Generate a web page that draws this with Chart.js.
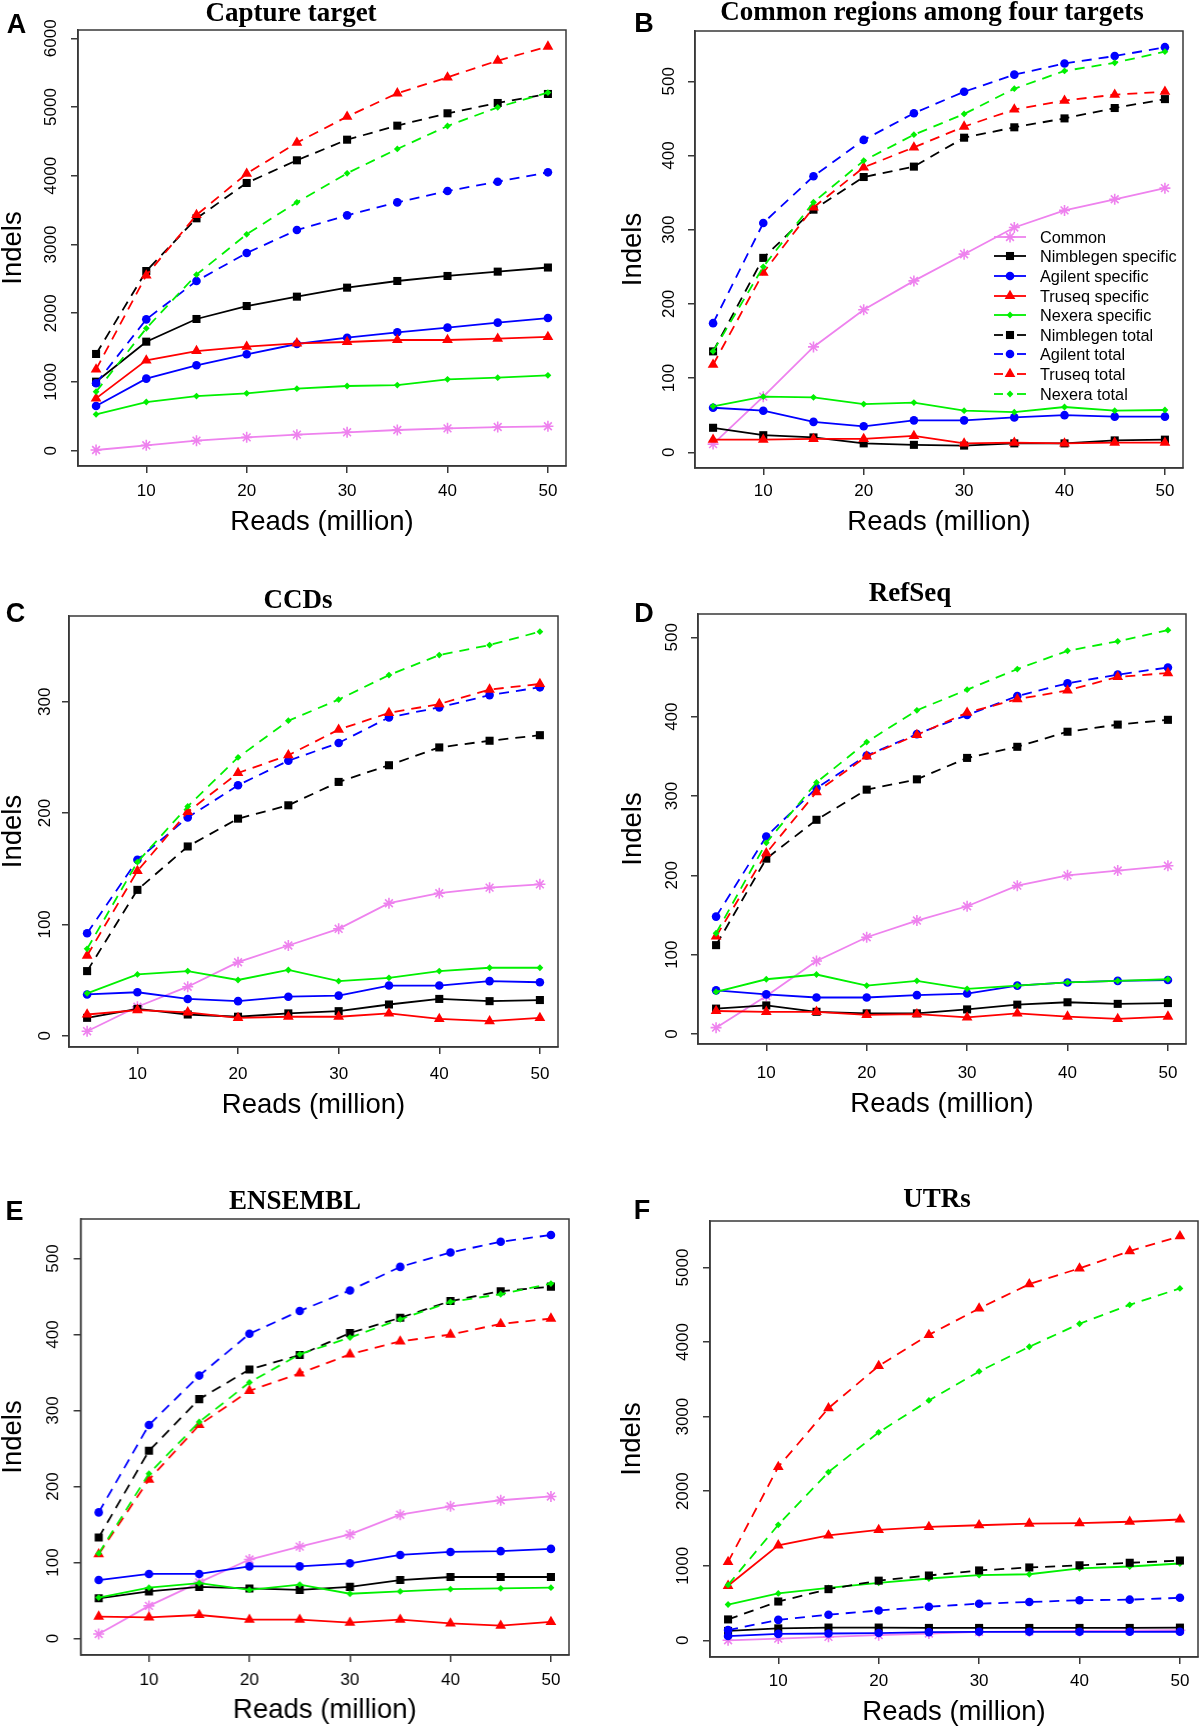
<!DOCTYPE html>
<html>
<head>
<meta charset="utf-8">
<script src="https://cdn.jsdelivr.net/npm/chart.js@4.4.1/dist/chart.umd.min.js"></script>
<style>
html,body{margin:0;padding:0;background:#fff;}
body{width:1200px;height:1728px;position:relative;overflow:hidden;}
canvas{position:absolute;}
.letter{position:absolute;font-family:'Liberation Sans',Arial,sans-serif;font-weight:700;font-size:27px;line-height:1;transform:translate(-50%,-50%);color:#000;white-space:nowrap;}
.ttl{position:absolute;font-family:'Liberation Serif','Times New Roman',serif;font-weight:700;font-size:27px;line-height:1;transform:translate(-50%,-50%);white-space:nowrap;color:#000;}
.legrow{position:absolute;height:20px;}
.legrow svg{position:absolute;left:0;top:0;}
.legrow span{position:absolute;left:50px;top:0;line-height:20px;font-family:'Liberation Sans',Arial,sans-serif;font-size:16.3px;color:#000;white-space:nowrap;}
</style>
</head>
<body>
<script>
// ---------------- DATA ----------------
const reads = [5, 10, 15, 20, 25, 30, 35, 40, 45, 50];
const xTicks = [10, 20, 30, 40, 50];
const seriesLabels = ['Common', 'Nimblegen specific', 'Agilent specific', 'Truseq specific', 'Nexera specific',
                      'Nimblegen total', 'Agilent total', 'Truseq total', 'Nexera total'];

// A: Capture target
const capYTicks = [0, 1000, 2000, 3000, 4000, 5000, 6000];
const capCommon  = [10, 78, 146, 194, 233, 267, 301, 325, 344, 355];
const capNimSpec = [1004, 1586, 1916, 2105, 2241, 2372, 2469, 2542, 2605, 2665];
const capAgiSpec = [650, 1048, 1242, 1402, 1552, 1644, 1722, 1790, 1863, 1930];
const capTruSpec = [761, 1314, 1450, 1513, 1562, 1581, 1610, 1610, 1630, 1655];
const capNexSpec = [529, 708, 795, 834, 902, 941, 955, 1038, 1062, 1097];
const capNimTot  = [1407, 2614, 3381, 3895, 4225, 4525, 4729, 4909, 5059, 5190];
const capAgiTot  = [980, 1911, 2469, 2876, 3211, 3424, 3613, 3778, 3914, 4050];
const capTruTot  = [1183, 2551, 3429, 4031, 4482, 4860, 5200, 5432, 5675, 5880];
const capNexTot  = [858, 1780, 2561, 3148, 3613, 4036, 4390, 4724, 4996, 5210];

// B: Common regions among four targets
const comYTicks = [0, 100, 200, 300, 400, 500];
const comCommon  = [11, 75, 142, 192, 231, 267, 303, 326, 341, 356];
const comNimSpec = [33, 23, 20, 12, 10, 9, 12, 12, 16, 17];
const comAgiSpec = [60, 56, 41, 35, 43, 43, 47, 50, 48, 48];
const comTruSpec = [17, 17, 18, 18, 22, 12, 13, 12, 13, 13];
const comNexSpec = [62, 75, 74, 65, 67, 56, 54, 61, 56, 57];
const comNimTot  = [136, 262, 327, 371, 385, 424, 438, 450, 464, 476];
const comAgiTot  = [174, 309, 372, 421, 457, 486, 509, 524, 534, 546];
const comTruTot  = [118, 242, 330, 384, 411, 439, 462, 474, 482, 486];
const comNexTot  = [136, 250, 337, 393, 428, 456, 490, 514, 525, 540];

// C: CCDs
const ccdYTicks = [0, 100, 200, 300];
const ccdCommon  = [4, 26, 44, 66, 81, 96, 119, 128, 133, 136];
const ccdNimSpec = [16, 24, 19, 17, 20, 22, 28, 33, 31, 32];
const ccdAgiSpec = [37, 39, 33, 31, 35, 36, 45, 45, 49, 48];
const ccdTruSpec = [19, 23, 21, 16, 17, 17, 20, 15, 13, 16];
const ccdNexSpec = [38, 55, 58, 50, 59, 49, 52, 58, 61, 61];
const ccdNimTot  = [58, 131, 170, 195, 207, 228, 243, 259, 265, 270];
const ccdAgiTot  = [92, 158, 196, 225, 247, 263, 286, 295, 306, 313];
const ccdTruTot  = [72, 148, 201, 236, 252, 275, 290, 298, 311, 316];
const ccdNexTot  = [78, 156, 206, 250, 283, 302, 324, 342, 351, 363];

// D: RefSeq
const refYTicks = [0, 100, 200, 300, 400, 500];
const refCommon  = [8, 48, 92, 122, 143, 161, 187, 200, 206, 212];
const refNimSpec = [32, 36, 28, 26, 26, 31, 37, 40, 38, 39];
const refAgiSpec = [55, 50, 46, 46, 49, 51, 61, 65, 67, 68];
const refTruSpec = [29, 28, 28, 24, 25, 21, 26, 22, 19, 22];
const refNexSpec = [53, 69, 75, 61, 67, 57, 61, 65, 67, 69];
const refNimTot  = [112, 221, 270, 308, 321, 348, 362, 381, 390, 396];
const refAgiTot  = [148, 249, 310, 351, 378, 402, 426, 442, 453, 462];
const refTruTot  = [123, 228, 305, 350, 377, 405, 422, 433, 450, 455];
const refNexTot  = [127, 241, 317, 368, 408, 434, 460, 483, 495, 509];

// E: ENSEMBL
const ensYTicks = [0, 100, 200, 300, 400, 500];
const ensCommon  = [6, 43, 74, 104, 121, 137, 163, 174, 182, 187];
const ensNimSpec = [53, 62, 68, 66, 64, 68, 77, 81, 81, 81];
const ensAgiSpec = [77, 85, 85, 95, 95, 99, 110, 114, 115, 118];
const ensTruSpec = [29, 28, 31, 25, 25, 21, 25, 20, 17, 22];
const ensNexSpec = [54, 67, 73, 64, 71, 59, 62, 65, 66, 67];
const ensNimTot  = [133, 247, 315, 354, 373, 402, 422, 444, 457, 463];
const ensAgiTot  = [166, 281, 346, 401, 431, 458, 489, 508, 522, 531];
const ensTruTot  = [111, 209, 281, 326, 349, 374, 391, 400, 414, 421];
const ensNexTot  = [112, 217, 285, 337, 374, 396, 420, 443, 453, 467];

// F: UTRs
const utrYTicks = [0, 1000, 2000, 3000, 4000, 5000];
const utrCommon  = [0, 23, 46, 69, 91, 114, 120, 126, 130, 135];
const utrNimSpec = [126, 160, 171, 171, 166, 166, 166, 166, 166, 170];
const utrAgiSpec = [57, 86, 91, 97, 109, 114, 114, 114, 114, 115];
const utrTruSpec = [731, 1274, 1406, 1480, 1520, 1543, 1566, 1571, 1590, 1620];
const utrNexSpec = [480, 629, 703, 771, 829, 874, 886, 966, 990, 1030];
const utrNimTot  = [280, 520, 686, 800, 869, 937, 977, 1006, 1040, 1070];
const utrAgiTot  = [137, 274, 343, 400, 451, 491, 514, 537, 545, 570];
const utrTruTot  = [1051, 2326, 3114, 3680, 4097, 4451, 4777, 4989, 5220, 5420];
const utrNexTot  = [743, 1549, 2257, 2789, 3217, 3606, 3937, 4246, 4500, 4720];

// ---------------- STYLE ----------------
const SANS = "'Liberation Sans', Arial, Helvetica, sans-serif";
const AXIS_COLOR = '#383838';
const TL = 7;
const seriesColors  = ['#EE82EE', '#000000', '#0000FF', '#FF0000', '#00F000', '#000000', '#0000FF', '#FF0000', '#00F000'];
const seriesMarkers = ['star', 'rect', 'circle', 'triangle', 'rectRot', 'rect', 'circle', 'triangle', 'rectRot'];
const seriesDashed  = [false, false, false, false, false, true, true, true, true];
const markerRadius  = {star: 5.5, rect: 5.7, circle: 4.3, triangle: 6.2, rectRot: 3.4};

const measureCtx = document.createElement('canvas').getContext('2d');
function textWidth(t, size) { measureCtx.font = size + 'px ' + SANS; return measureCtx.measureText(t).width; }

const boxPlugin = {
  id: 'rbox',
  afterDraw(chart) {
    const {ctx, chartArea: a} = chart;
    ctx.save();
    ctx.strokeStyle = AXIS_COLOR;
    ctx.lineWidth = 1.5;
    ctx.strokeRect(a.left, a.top, a.right - a.left, a.bottom - a.top);
    ctx.restore();
  }
};

function makePanel(p) {
  const cw = p.R - p.cl + 14;
  const ch = p.xly + 14 - p.ct;
  const pl = Math.max(0, p.ylx - p.cl - 14);
  const yw = p.L - p.cl - pl;
  const xh = p.xly + 14 - p.B;
  const widest = Math.max(...p.yTicks.map(v => textWidth(String(v), 17)));
  const ypad = p.L - TL - widest / 2 - p.ytx;
  const xpad = p.xty - p.B - TL - 17 * 1.2 / 2;

  const canvas = document.createElement('canvas');
  canvas.width = cw; canvas.height = ch;
  canvas.style.left = p.cl + 'px'; canvas.style.top = p.ct + 'px';
  canvas.style.width = cw + 'px'; canvas.style.height = ch + 'px';
  document.body.appendChild(canvas);

  const datasets = p.series.map((vals, i) => {
    const m = seriesMarkers[i];
    return {
      label: seriesLabels[i],
      data: reads.map((r, k) => ({x: r, y: vals[k]})),
      borderColor: seriesColors[i],
      backgroundColor: seriesColors[i],
      borderWidth: 1.8,
      borderDash: seriesDashed[i] ? [10, 7] : [],
      pointStyle: m,
      pointRadius: markerRadius[m],
      pointBackgroundColor: seriesColors[i],
      pointBorderColor: seriesColors[i],
      pointBorderWidth: m === 'star' ? 1.6 : 0,
      tension: 0,
      order: 9 - i
    };
  });

  const gridOpts = {display: true, drawOnChartArea: false, drawTicks: true, tickLength: TL, color: AXIS_COLOR, lineWidth: 1.5};
  const borderOpts = {display: true, color: AXIS_COLOR, width: 1.5};

  new Chart(canvas, {
    type: 'line',
    data: {datasets},
    options: {
      responsive: false,
      animation: false,
      events: [],
      layout: {padding: {left: pl, top: p.T - p.ct, right: 14, bottom: 0}},
      plugins: {legend: {display: false}, tooltip: {enabled: false}, title: {display: false}},
      scales: {
        x: {
          type: 'linear', min: 3.2, max: 51.8,
          afterBuildTicks: s => { s.ticks = xTicks.map(v => ({value: v})); },
          afterFit: s => { s.height = xh; },
          grid: gridOpts, border: borderOpts,
          ticks: {font: {family: SANS, size: 17}, color: '#000', padding: xpad, maxRotation: 0, minRotation: 0, autoSkip: false,
                  callback: v => String(v)},
          title: {display: true, text: 'Reads (million)', font: {family: SANS, size: 27.5, lineHeight: 1}, padding: 0, color: '#000'}
        },
        y: {
          type: 'linear', min: p.yMin, max: p.yMax,
          afterBuildTicks: s => { s.ticks = p.yTicks.map(v => ({value: v})); },
          afterFit: s => { s.width = yw; },
          grid: gridOpts, border: borderOpts,
          ticks: {font: {family: SANS, size: 17}, color: '#000', padding: ypad, minRotation: 90, maxRotation: 90,
                  crossAlign: 'center', autoSkip: false, callback: v => String(v)},
          title: {display: true, text: 'Indels', font: {family: SANS, size: 27.5, lineHeight: 1}, padding: 0, color: '#000'}
        }
      }
    },
    plugins: [boxPlugin]
  });
}

function addText(cls, text, x, y) {
  const d = document.createElement('div');
  d.className = cls; d.textContent = text;
  d.style.left = x + 'px'; d.style.top = y + 'px';
  document.body.appendChild(d);
}

const panels = [
  {cl: 0, ct: 0, L: 78, T: 30, R: 566, B: 466, yMin: -223, yMax: 6121, yTicks: capYTicks, ytx: 51.6, ylx: 13.8, xty: 491, xly: 522,
   series: [capCommon, capNimSpec, capAgiSpec, capTruSpec, capNexSpec, capNimTot, capAgiTot, capTruTot, capNexTot]},
  {cl: 600, ct: 0, L: 695, T: 31, R: 1183, B: 468, yMin: -21.2, yMax: 567.8, yTicks: comYTicks, ytx: 669.5, ylx: 634, xty: 491, xly: 522,
   series: [comCommon, comNimSpec, comAgiSpec, comTruSpec, comNexSpec, comNimTot, comAgiTot, comTruTot, comNexTot]},
  {cl: 0, ct: 560, L: 69, T: 616, R: 558, B: 1047, yMin: -10.2, yMax: 377.1, yTicks: ccdYTicks, ytx: 45, ylx: 14, xty: 1074, xly: 1105,
   series: [ccdCommon, ccdNimSpec, ccdAgiSpec, ccdTruSpec, ccdNexSpec, ccdNimTot, ccdAgiTot, ccdTruTot, ccdNexTot]},
  {cl: 600, ct: 560, L: 698, T: 614, R: 1186, B: 1044, yMin: -12.6, yMax: 529.4, yTicks: refYTicks, ytx: 672, ylx: 634, xty: 1073, xly: 1104,
   series: [refCommon, refNimSpec, refAgiSpec, refTruSpec, refNexSpec, refNimTot, refAgiTot, refTruTot, refNexTot]},
  {cl: 0, ct: 1150, L: 80.5, T: 1219, R: 568.5, B: 1655, yMin: -21.6, yMax: 552, yTicks: ensYTicks, ytx: 53.4, ylx: 13, xty: 1680, xly: 1710,
   series: [ensCommon, ensNimSpec, ensAgiSpec, ensTruSpec, ensNexSpec, ensNimTot, ensAgiTot, ensTruTot, ensNexTot]},
  {cl: 600, ct: 1150, L: 710, T: 1221, R: 1198, B: 1657, yMin: -224, yMax: 5624, yTicks: utrYTicks, ytx: 683, ylx: 633, xty: 1681, xly: 1712,
   series: [utrCommon, utrNimSpec, utrAgiSpec, utrTruSpec, utrNexSpec, utrNimTot, utrAgiTot, utrTruTot, utrNexTot]}
];
panels.forEach(makePanel);

// Titles and panel letters
addText('ttl', 'Capture target', 291, 12);
addText('ttl', 'Common regions among four targets', 932, 10.5);
addText('ttl', 'CCDs', 298, 598.5);
addText('ttl', 'RefSeq', 910, 592);
addText('ttl', 'ENSEMBL', 295, 1199.5);
addText('ttl', 'UTRs', 937, 1197.5);
addText('letter', 'A', 16.5, 24);
addText('letter', 'B', 644, 23);
addText('letter', 'C', 15.5, 613);
addText('letter', 'D', 644, 613);
addText('letter', 'E', 14.5, 1211);
addText('letter', 'F', 642, 1210);

// Legend (panel B)
function markerSVG(m, c, cx, cy) {
  const r = markerRadius[m];
  if (m === 'rect') { const s = r * Math.SQRT1_2; return `<rect x="${cx - s}" y="${cy - s}" width="${2 * s}" height="${2 * s}" fill="${c}"/>`; }
  if (m === 'circle') return `<circle cx="${cx}" cy="${cy}" r="${r}" fill="${c}"/>`;
  if (m === 'triangle') {
    const pts = [0, 2 * Math.PI / 3, 4 * Math.PI / 3].map(a => `${cx + Math.sin(a) * r},${cy - Math.cos(a) * r}`).join(' ');
    return `<polygon points="${pts}" fill="${c}"/>`;
  }
  if (m === 'rectRot') return `<polygon points="${cx - r},${cy} ${cx},${cy - r} ${cx + r},${cy} ${cx},${cy + r}" fill="${c}"/>`;
  if (m === 'star') {
    const d = r * Math.SQRT1_2;
    return `<g stroke="${c}" stroke-width="1.6"><line x1="${cx - r}" y1="${cy}" x2="${cx + r}" y2="${cy}"/><line x1="${cx}" y1="${cy - r}" x2="${cx}" y2="${cy + r}"/>` +
           `<line x1="${cx - d}" y1="${cy - d}" x2="${cx + d}" y2="${cy + d}"/><line x1="${cx - d}" y1="${cy + d}" x2="${cx + d}" y2="${cy - d}"/></g>`;
  }
  return '';
}
seriesLabels.forEach((lab, i) => {
  const row = document.createElement('div');
  row.className = 'legrow';
  row.style.left = '990px';
  row.style.top = (236.7 + 19.6 * i - 10) + 'px';
  const c = seriesColors[i];
  const line = seriesDashed[i]
    ? `<line x1="4" y1="10" x2="13" y2="10" stroke="${c}" stroke-width="1.8"/><line x1="27" y1="10" x2="36" y2="10" stroke="${c}" stroke-width="1.8"/>`
    : `<line x1="4" y1="10" x2="36" y2="10" stroke="${c}" stroke-width="1.8"/>`;
  row.innerHTML = `<svg width="42" height="20">${line}${markerSVG(seriesMarkers[i], c, 20, 10)}</svg><span>${lab}</span>`;
  document.body.appendChild(row);
});
</script>
</body>
</html>
